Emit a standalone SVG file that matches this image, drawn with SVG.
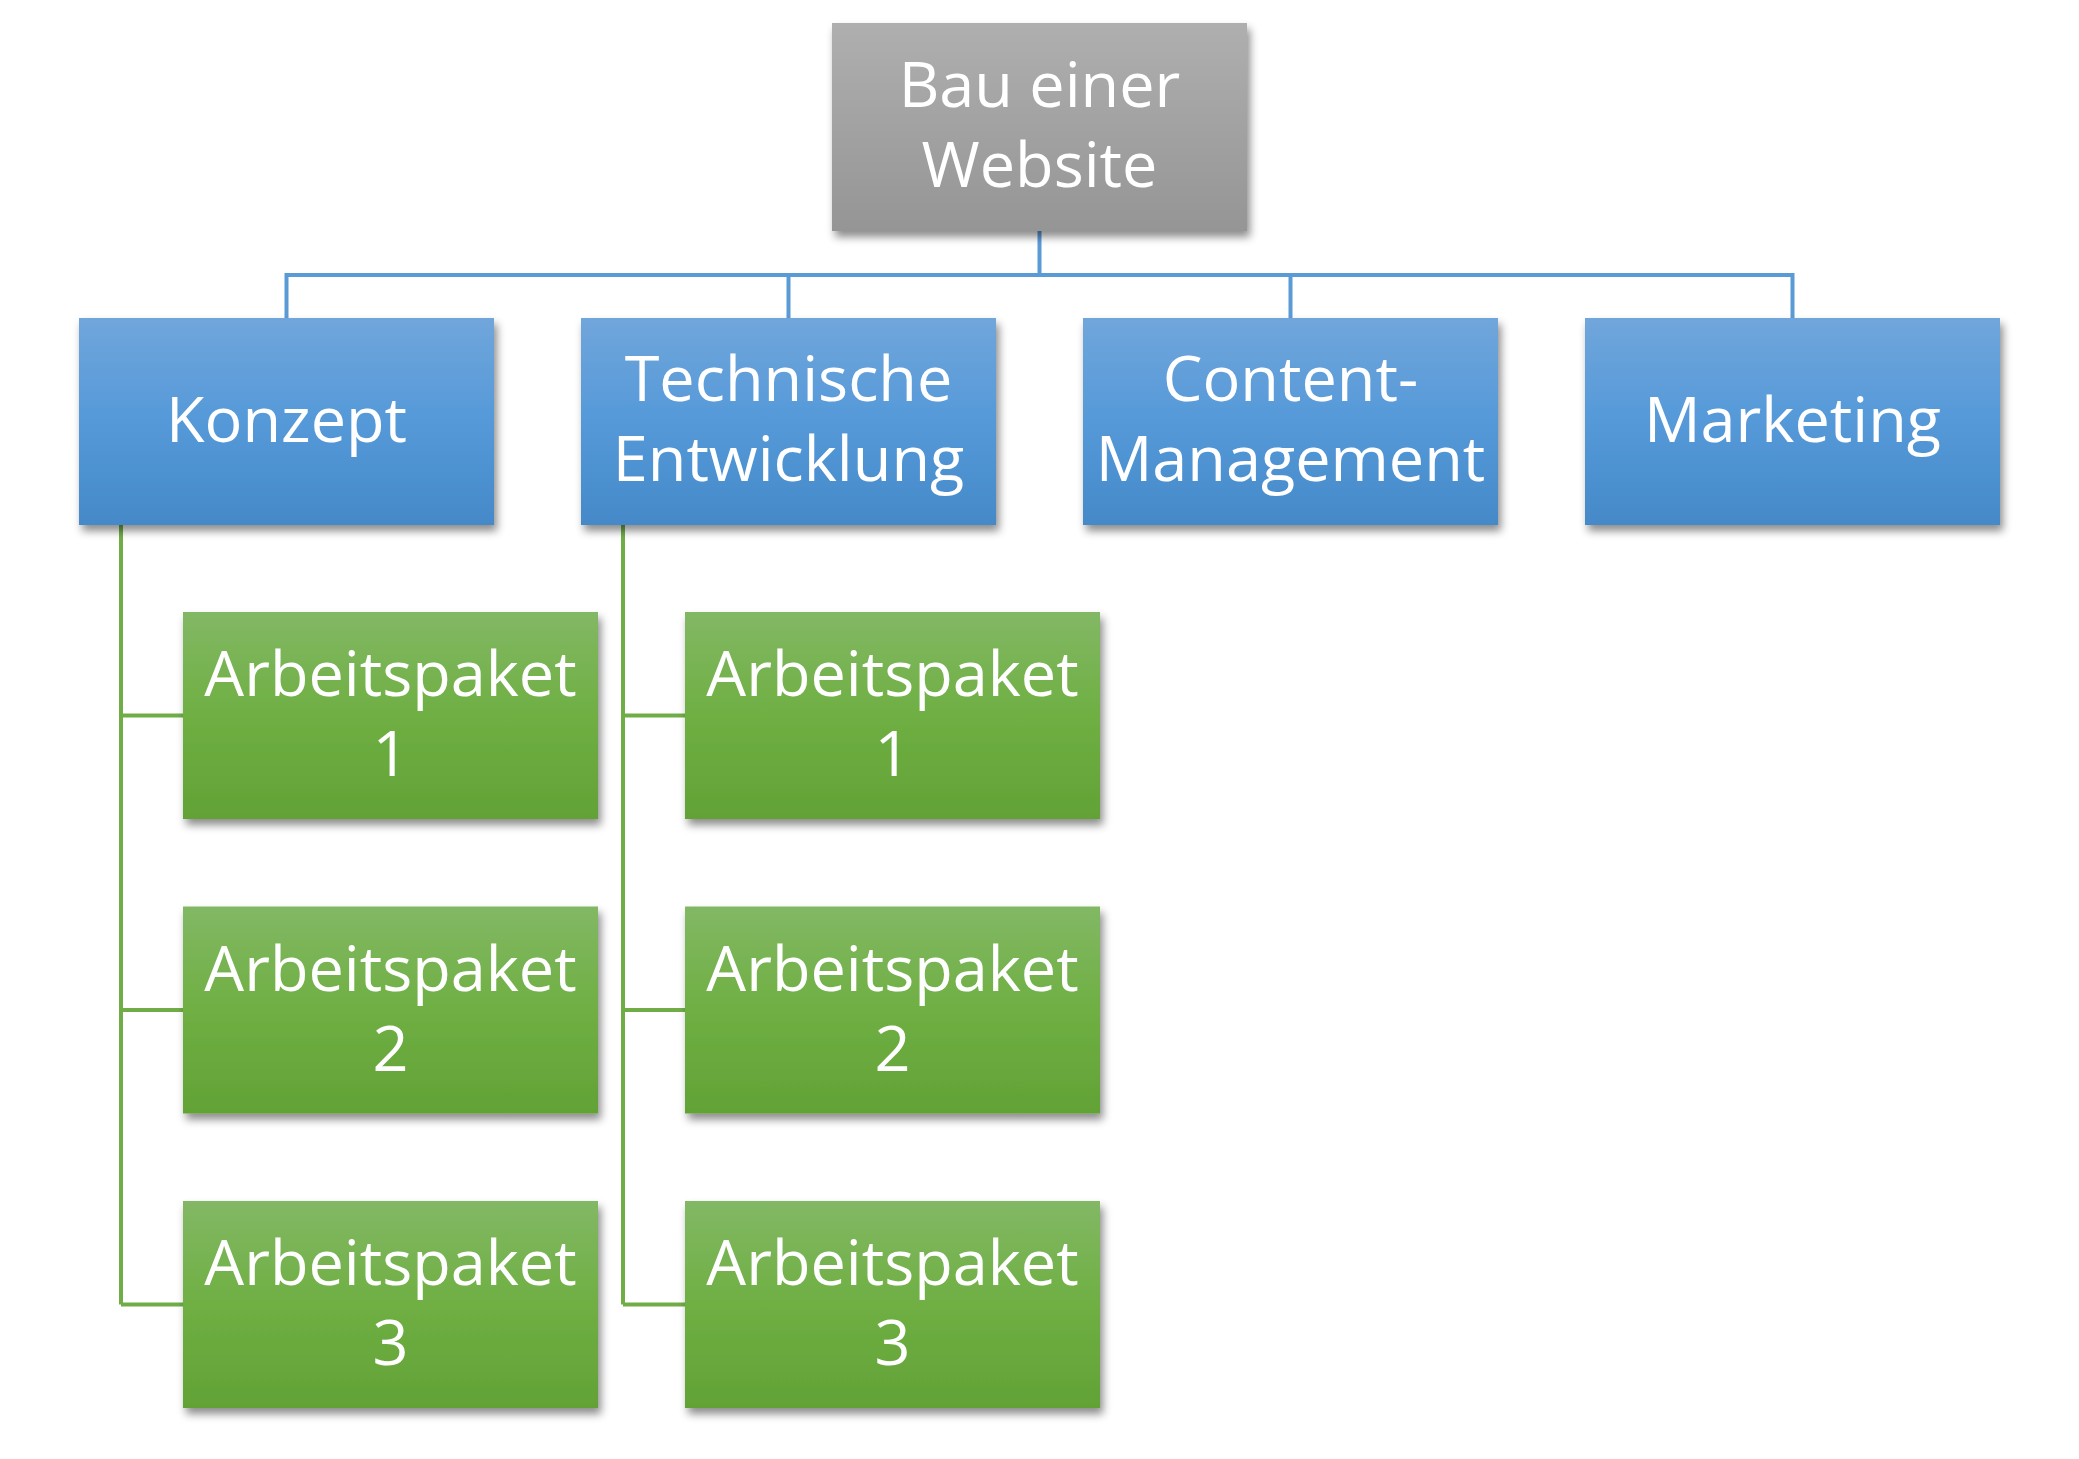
<svg xmlns="http://www.w3.org/2000/svg" width="2079" height="1459" viewBox="0 0 2079 1459">
<defs>
<linearGradient id="gGray" x1="0" y1="0" x2="0" y2="1"><stop offset="0" stop-color="#afafaf"/><stop offset="1" stop-color="#959595"/></linearGradient>
<linearGradient id="gBlue" x1="0" y1="0" x2="0" y2="1"><stop offset="0" stop-color="#70a6db"/><stop offset="0.5" stop-color="#5599d9"/><stop offset="1" stop-color="#4589c8"/></linearGradient>
<linearGradient id="gGreen" x1="0" y1="0" x2="0" y2="1"><stop offset="0" stop-color="#82b864"/><stop offset="0.5" stop-color="#6faf43"/><stop offset="1" stop-color="#62a236"/></linearGradient>
<filter id="sh" x="-10%" y="-10%" width="130%" height="140%"><feDropShadow dx="3" dy="6" stdDeviation="4" flood-color="#000" flood-opacity="0.45"/></filter>
</defs>
<style>
.t{font-family:"Open Sans","Liberation Sans",sans-serif;font-size:63px;fill:#fff;text-anchor:middle}
.cb{stroke:#5b9bd5;stroke-width:4;fill:none}
.cg{stroke:#70ad47;stroke-width:4;fill:none}
</style>
<rect width="2079" height="1459" fill="#fff"/>
<g id="connectors">
<path class="cb" d="M1039.5 231V275M286.5 275H1792.5M286.5 273V318M788.5 273V318M1290.5 273V318M1792.5 273V318"/>
<path class="cg" d="M121 525V1304.5M121 715.5H183M121 1010H183M121 1304.5H183"/>
<path class="cg" d="M623 525V1304.5M623 715.5H685M623 1010H685M623 1304.5H685"/>
</g>
<g id="root"><rect x="832" y="23" width="415" height="208" fill="url(#gGray)" filter="url(#sh)"/><text class="t" x="1039.5" y="107">Bau einer</text><text class="t" x="1039.5" y="187">Website</text></g>
<g id="konzept"><rect x="79" y="318" width="415" height="207" fill="url(#gBlue)" filter="url(#sh)"/><text class="t" x="286.5" y="442">Konzept</text></g>
<g id="technische"><rect x="581" y="318" width="415" height="207" fill="url(#gBlue)" filter="url(#sh)"/><text class="t" x="788.5" y="401">Technische</text><text class="t" x="788.5" y="481">Entwicklung</text></g>
<g id="content"><rect x="1083" y="318" width="415" height="207" fill="url(#gBlue)" filter="url(#sh)"/><text class="t" x="1290.5" y="401">Content-</text><text class="t" x="1290.5" y="481">Management</text></g>
<g id="marketing"><rect x="1585" y="318" width="415" height="207" fill="url(#gBlue)" filter="url(#sh)"/><text class="t" x="1792.5" y="442">Marketing</text></g>
<g id="k-ap1"><rect x="183" y="612" width="415" height="207" fill="url(#gGreen)" filter="url(#sh)"/><text class="t" x="390.5" y="696">Arbeitspaket</text><text class="t" x="390.5" y="776">1</text></g>
<g id="k-ap2"><rect x="183" y="906.5" width="415" height="207" fill="url(#gGreen)" filter="url(#sh)"/><text class="t" x="390.5" y="990.5">Arbeitspaket</text><text class="t" x="390.5" y="1070.5">2</text></g>
<g id="k-ap3"><rect x="183" y="1201" width="415" height="207" fill="url(#gGreen)" filter="url(#sh)"/><text class="t" x="390.5" y="1285">Arbeitspaket</text><text class="t" x="390.5" y="1365">3</text></g>
<g id="t-ap1"><rect x="685" y="612" width="415" height="207" fill="url(#gGreen)" filter="url(#sh)"/><text class="t" x="892.5" y="696">Arbeitspaket</text><text class="t" x="892.5" y="776">1</text></g>
<g id="t-ap2"><rect x="685" y="906.5" width="415" height="207" fill="url(#gGreen)" filter="url(#sh)"/><text class="t" x="892.5" y="990.5">Arbeitspaket</text><text class="t" x="892.5" y="1070.5">2</text></g>
<g id="t-ap3"><rect x="685" y="1201" width="415" height="207" fill="url(#gGreen)" filter="url(#sh)"/><text class="t" x="892.5" y="1285">Arbeitspaket</text><text class="t" x="892.5" y="1365">3</text></g>
</svg>
